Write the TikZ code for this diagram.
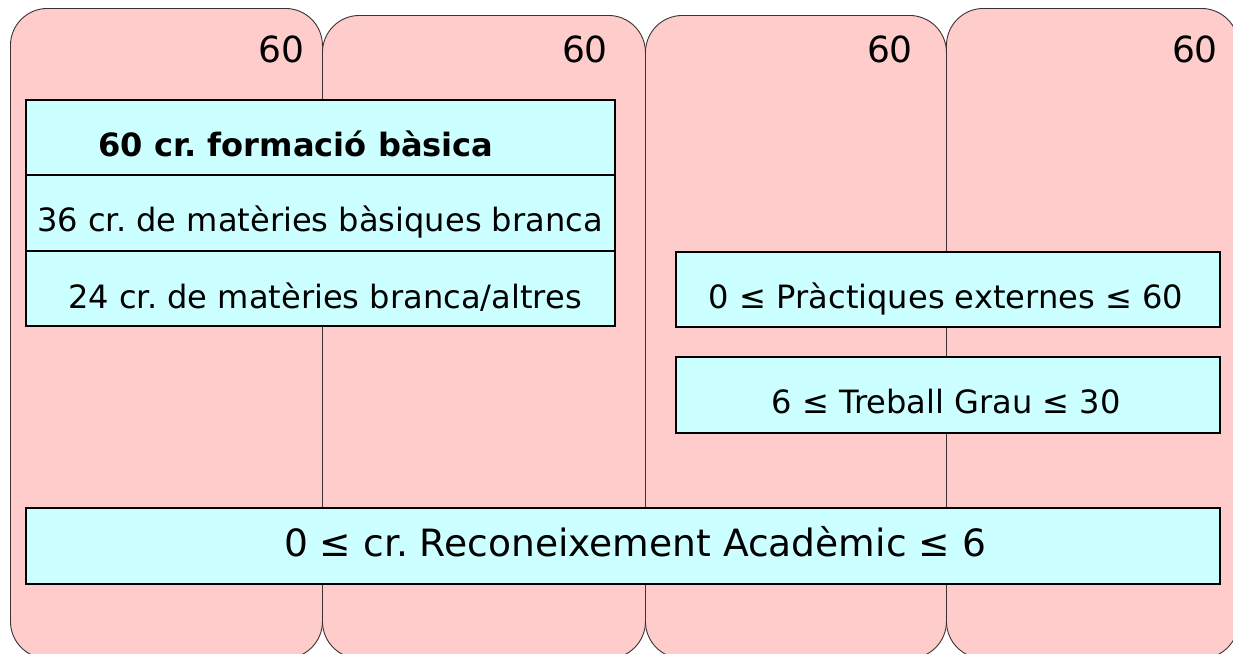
\documentclass[tikz,border=0pt]{standalone}
\usepackage{fontspec}
\setmainfont{DejaVu Sans}
\definecolor{pinkc}{RGB}{255,204,204}
\definecolor{cyanc}{RGB}{204,255,255}
\definecolor{edgec}{RGB}{60,50,50}
\begin{document}
\frenchspacing
\begin{tikzpicture}[x=1pt,y=-1pt,
  col/.style={draw=edgec, line width=0.9pt, fill=pinkc, rounded corners=37pt,
    inner sep=0pt, anchor=north west},
  cell/.style={draw=black, line width=1.8pt, fill=cyanc, inner sep=0pt, anchor=north west},
  hdr/.style={font=\fontsize{36}{40}\selectfont, inner sep=0pt, anchor=east},
  txt/.style={font=\fontsize{32.1}{36}\selectfont, inner sep=0pt, anchor=base},
  btxt/.style={font=\bfseries\fontsize{32.1}{36}\selectfont, inner sep=0pt, anchor=base},
  bigtxt/.style={font=\fontsize{37.6}{42}\selectfont, inner sep=0pt, anchor=base}]
\useasboundingbox (0,0) rectangle (1233,653);
% columns (years)
\node[col, minimum width=312pt, minimum height=650pt] (c1) at (10,8) {};
\node[col, minimum width=323pt, minimum height=643pt] (c2) at (322,15) {};
\node[col, minimum width=301pt, minimum height=643pt] (c3) at (645,15) {};
\node[col, minimum width=292pt, minimum height=650pt] (c4) at (946,8) {};
\node[hdr] (h1) at (305,49) {60};
\node[hdr] (h2) at (608,49) {60};
\node[hdr] (h3) at (913,49) {60};
\node[hdr] (h4) at (1218,49) {60};
% basic training block
\node[cell, minimum width=589pt, minimum height=75pt] (r1) at (25,99) {};
\node[cell, minimum width=589pt, minimum height=76pt] (r2) at (25,174) {};
\node[cell, minimum width=589pt, minimum height=75pt] (r3) at (25,250) {};
\node[btxt] (t1) at (296,156) {60 cr. formació bàsica};
\node[txt] (t2) at (320,231) {36 cr. de matèries bàsiques branca};
\node[txt] (t3) at (325,308) {24 cr. de matèries branca/altres};
% right blocks
\node[cell, minimum width=544pt, minimum height=75pt] (p) at (675,251) {};
\node[txt] (tp) at (946,308) {0 ≤ Pràctiques externes ≤ 60};
\node[cell, minimum width=544pt, minimum height=76pt] (g) at (675,356) {};
\node[txt] (tg) at (946,413) {6 ≤ Treball Grau ≤ 30};
% bottom block
\node[cell, minimum width=1194pt, minimum height=76pt] (ra) at (25,507) {};
\node[bigtxt] (tra) at (635,556) {0 ≤ cr. Reconeixement Acadèmic ≤ 6};
\end{tikzpicture}
\end{document}
